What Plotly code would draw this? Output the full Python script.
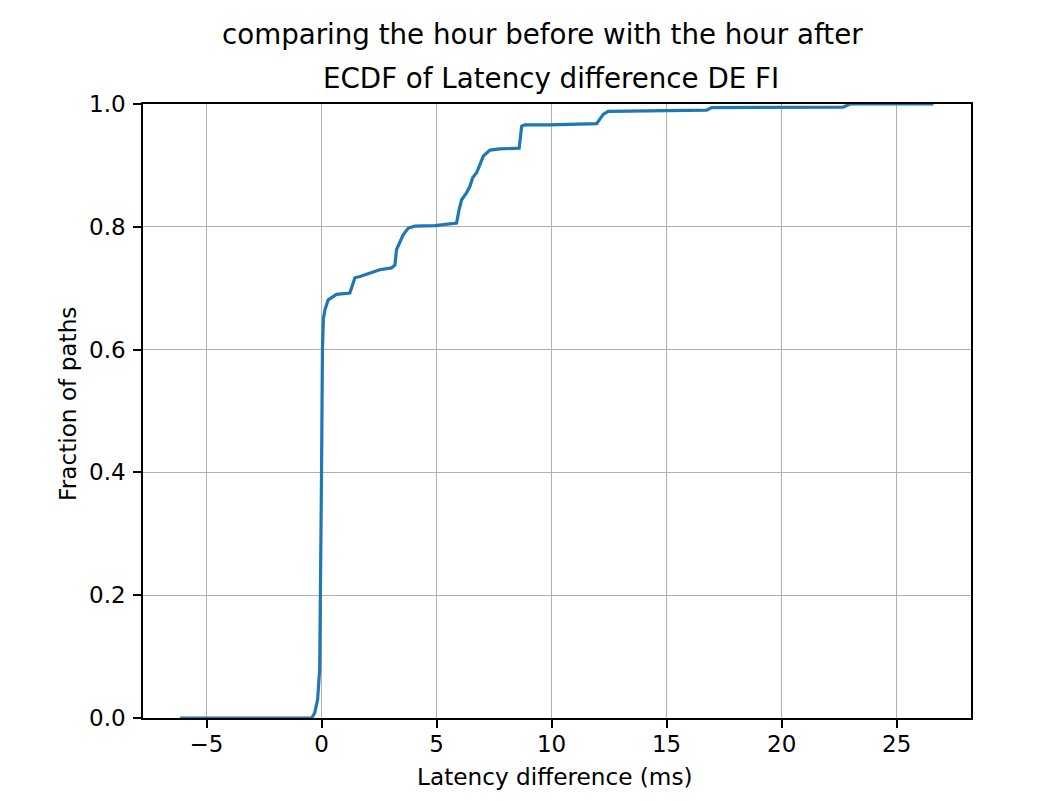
import plotly.graph_objects as go

# ECDF of latency difference (ms) vs fraction of paths
latency_diff_ms = [-6.15, -2.0, -0.43, -0.3, -0.17, -0.08, -0.04, 0.0, 0.04, 0.08, 0.15,
                   0.29, 0.65, 1.23, 1.3, 1.45, 1.67, 2.1, 2.24, 2.53, 3.04, 3.19, 3.26,
                   3.4, 3.55, 3.77, 4.06, 4.93, 5.87, 5.98, 6.09, 6.3, 6.45, 6.57, 6.74,
                   6.88, 7.03, 7.32, 7.75, 8.59, 8.7, 8.84, 9.93, 11.96, 12.24, 12.46,
                   13.84, 15.0, 16.74, 16.96, 19.9, 22.68, 22.97, 26.6]
ecdf_fraction = [0.0, 0.0, 0.0, 0.008, 0.03, 0.08, 0.2, 0.4, 0.6, 0.65, 0.665,
                 0.681, 0.69, 0.692, 0.70, 0.717, 0.719, 0.725, 0.727, 0.730, 0.733, 0.738, 0.763,
                 0.776, 0.787, 0.798, 0.801, 0.802, 0.806, 0.828, 0.844, 0.855, 0.866, 0.880, 0.888,
                 0.901, 0.915, 0.925, 0.927, 0.928, 0.964, 0.966, 0.966, 0.968, 0.983, 0.988,
                 0.989, 0.990, 0.990, 0.994, 0.995, 0.995, 1.0, 1.0]

x_ticks = [-5, 0, 5, 10, 15, 20, 25]
y_ticks = [0.0, 0.2, 0.4, 0.6, 0.8, 1.0]
y_tick_text = ["0.0", "0.2", "0.4", "0.6", "0.8", "1.0"]

suptitle = "comparing the hour before with the hour after"
title = "ECDF of Latency difference DE FI"
x_label = "Latency difference (ms)"
y_label = "Fraction of paths"

# page body has an 8px margin; figure coords = screenshot coords - 8
OFF = 8
W, H = 1048, 785
L, T = 143 - OFF, 104 - OFF
R = W - (971 - OFF)
B = H - (718 - OFF)
pw, ph = W - L - R, H - T - B


def px_x(p):
    return (p - OFF - L) / pw


def px_y(p):
    return (H - B - (p - OFF)) / ph


FONT = "DejaVu Sans"

fig = go.Figure()
fig.add_trace(go.Scatter(
    x=latency_diff_ms, y=ecdf_fraction, mode="lines",
    line=dict(color="#1f77b4", width=3.2), showlegend=False, hoverinfo="skip",
))

axis_common = dict(
    showline=True, linecolor="black", linewidth=1.6, mirror=True,
    showgrid=True, gridcolor="#b0b0b0", gridwidth=1.4,
    zeroline=False, ticks="outside", ticklen=8, tickwidth=1.6, tickcolor="black",
    tickfont=dict(family=FONT, size=23, color="black"),
)

fig.update_xaxes(range=[-7.76, 28.23], tickvals=x_ticks, ticklabelstandoff=-3, **axis_common)
fig.update_yaxes(range=[0, 1], tickvals=y_ticks, ticktext=y_tick_text, ticklabelstandoff=3, **axis_common)

annotations = [
    dict(text=suptitle, x=px_x(542), y=px_y(35), xref="paper", yref="paper",
         xanchor="center", yanchor="middle", showarrow=False,
         font=dict(family=FONT, size=27.7, color="black")),
    dict(text=title, x=px_x(551), y=px_y(79), xref="paper", yref="paper",
         xanchor="center", yanchor="middle", showarrow=False,
         font=dict(family=FONT, size=27.7, color="black")),
    dict(text=x_label, x=px_x(555), y=px_y(776), xref="paper", yref="paper",
         xanchor="center", yanchor="middle", showarrow=False,
         font=dict(family=FONT, size=23.2, color="black")),
    dict(text=y_label, x=px_x(67), y=px_y(404), xref="paper", yref="paper",
         xanchor="center", yanchor="middle", showarrow=False, textangle=-90,
         font=dict(family=FONT, size=23.2, color="black")),
]

fig.update_layout(
    width=W, height=H, margin=dict(l=L, r=R, t=T, b=B, autoexpand=False),
    paper_bgcolor="white", plot_bgcolor="white",
    annotations=annotations,
    font=dict(family=FONT, color="black"),
)

fig.write_html("out.html")
